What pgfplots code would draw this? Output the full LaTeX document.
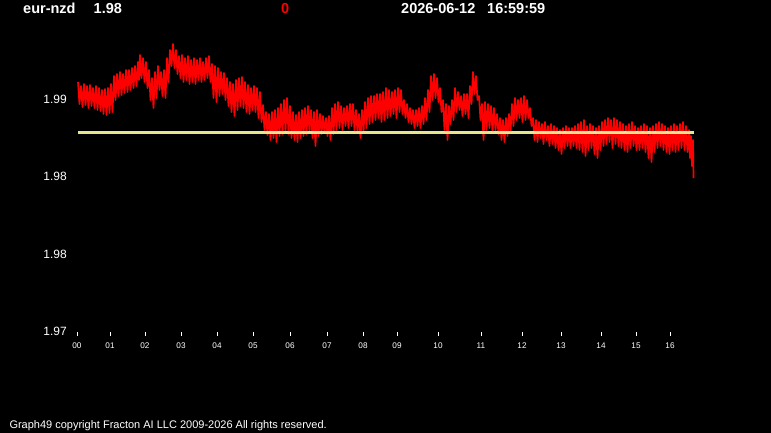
\documentclass[border=0pt]{standalone}
\usepackage{fontspec}
\setmainfont{Liberation Sans}
\usepackage{pgfplots}
\pgfplotsset{compat=1.18}
\definecolor{refline}{RGB}{230,230,140}
\definecolor{pxred}{RGB}{255,0,0}
\begin{document}
\begin{tikzpicture}[x=1pt,y=1pt]
\fill[black] (0,0) rectangle (771,433);
\begin{axis}[
  at={(70pt,97pt)}, anchor=south west,
  scale only axis, width=701pt, height=336pt,
  xmin=70, xmax=771, ymin=1.97221, ymax=1.99389,
  clip=false,
  axis line style={draw=none},
  tick align=inside,
  major tick length=3.5pt,
  xtick pos=bottom, ytick pos=left,
  xtick={77,110,145,181,217,253,290,327,363,397,438,481,522,561,601,636,670},
  xticklabels={00,01,02,03,04,05,06,07,08,09,10,11,12,13,14,15,16},
  xtick style={white, line width=0.8pt},
  xticklabel style={white, anchor=north, inner sep=0pt, yshift=-6.5pt, font=\fontsize{8.2}{9}\selectfont},
  ytick={1.9725,1.9775,1.9825,1.9875},
  yticklabels={1.97,1.98,1.98,1.99},
  ytick style={draw=none},
  yticklabel style={white, anchor=east, inner sep=0pt, xshift=-3pt, font=\fontsize{12}{14}\selectfont},
]
\addplot[pxred, line width=1.7pt, line join=round] coordinates {
(78,1.98860) (79.5,1.98718) (81,1.98834) (82.5,1.98698) (84,1.98847) (85.5,1.98711)
(87,1.98834) (88.5,1.98692) (90,1.98840) (91.5,1.98705) (93,1.98821) (94.5,1.98692)
(96,1.98834) (97.5,1.98679) (99,1.98821) (100.5,1.98673) (102,1.98808) (103.5,1.98653)
(105,1.98815) (106.5,1.98647) (108,1.98821) (109.5,1.98660) (111,1.98847) (112.5,1.98666)
(114,1.98898) (115.5,1.98744) (117,1.98911) (118.5,1.98769) (120,1.98924) (121.5,1.98776)
(123,1.98911) (124.5,1.98789) (126,1.98937) (127.5,1.98795) (129,1.98937) (130.5,1.98808)
(132,1.98950) (133.5,1.98821) (135,1.98963) (136.5,1.98834) (138,1.98989) (139,1.98873)
(140,1.99034) (141.5,1.98885) (143,1.99014) (144.5,1.98860) (146,1.98989) (147.5,1.98821)
(149,1.98937) (150.5,1.98744) (152,1.98885) (153.5,1.98692) (155,1.98924) (156.5,1.98756)
(158,1.98963) (159.5,1.98808) (161,1.98924) (162.5,1.98769) (164,1.98937) (165.5,1.98756)
(167,1.99014) (168.5,1.98860) (170,1.99066) (171.5,1.98963) (173,1.99105) (174.5,1.98950)
(176,1.99066) (177.5,1.98911) (179,1.99027) (180.5,1.98885) (182,1.99034) (183.5,1.98860)
(185,1.99014) (186.5,1.98873) (188,1.99027) (189.5,1.98847) (191,1.99002) (192.5,1.98860)
(194,1.99014) (195.5,1.98847) (197,1.99002) (198.5,1.98873) (200,1.99014) (201.5,1.98860)
(203,1.98989) (204.5,1.98873) (206,1.99014) (207.5,1.98885) (209,1.99027) (210.5,1.98860)
(212,1.98976) (213.5,1.98756) (215,1.98963) (216.5,1.98731) (218,1.98950) (219.5,1.98769)
(221,1.98924) (222.5,1.98782) (224,1.98918) (225.5,1.98744) (227,1.98885) (228.5,1.98705)
(230,1.98860) (231.5,1.98666) (233,1.98847) (234.5,1.98640) (236,1.98873) (237.5,1.98679)
(239,1.98885) (240.5,1.98705) (242,1.98892) (243.5,1.98692) (245,1.98860) (246.5,1.98666)
(248,1.98840) (249.5,1.98653) (251,1.98821) (252.5,1.98679) (254,1.98834) (255.5,1.98666)
(257,1.98821) (258.5,1.98627) (260,1.98795) (261.5,1.98602) (263,1.98711) (264.5,1.98550)
(266,1.98666) (267.5,1.98518) (269,1.98653) (270.5,1.98486) (272,1.98666) (273.5,1.98498)
(275,1.98679) (276.5,1.98473) (278,1.98692) (279.5,1.98511) (281,1.98718) (282.5,1.98524)
(284,1.98744) (285.5,1.98537) (287,1.98756) (288.5,1.98524) (290,1.98705) (291.5,1.98498)
(293,1.98666) (294.5,1.98486) (296,1.98647) (297.5,1.98473) (299,1.98666) (300.5,1.98498)
(302,1.98679) (303.5,1.98511) (305,1.98692) (306.5,1.98524) (308,1.98705) (309.5,1.98537)
(311,1.98679) (312.5,1.98498) (314,1.98666) (315.5,1.98447) (317,1.98679) (318.5,1.98511)
(320,1.98653) (321.5,1.98524) (323,1.98640) (324.5,1.98537) (326,1.98627) (327.5,1.98511)
(329,1.98640) (330.5,1.98486) (332,1.98692) (333.5,1.98524) (335,1.98718) (336.5,1.98550)
(338,1.98731) (339.5,1.98563) (341,1.98705) (342.5,1.98550) (344,1.98692) (345.5,1.98576)
(347,1.98705) (348.5,1.98563) (350,1.98718) (351.5,1.98576) (353,1.98718) (354.5,1.98550)
(356,1.98679) (357.5,1.98537) (359,1.98653) (360.5,1.98498) (362,1.98679) (363.5,1.98537)
(365,1.98731) (366.5,1.98563) (368,1.98756) (369.5,1.98589) (371,1.98769) (372.5,1.98602)
(374,1.98769) (375.5,1.98615) (377,1.98782) (378.5,1.98627) (380,1.98782) (381.5,1.98602)
(383,1.98795) (384.5,1.98615) (386,1.98821) (387.5,1.98627) (389,1.98808) (390.5,1.98640)
(392,1.98795) (393.5,1.98653) (395,1.98808) (396.5,1.98627) (398,1.98821) (399.5,1.98666)
(401,1.98808) (402.5,1.98653) (404,1.98744) (405.5,1.98627) (407,1.98718) (408.5,1.98602)
(410,1.98692) (411.5,1.98589) (413,1.98679) (414.5,1.98563) (416,1.98679) (417.5,1.98576)
(419,1.98692) (420.5,1.98563) (422,1.98705) (423.5,1.98589) (425,1.98756) (426.5,1.98615)
(428,1.98808) (429.5,1.98666) (431,1.98898) (432.5,1.98744) (434,1.98911) (435.5,1.98756)
(437,1.98885) (438.5,1.98731) (440,1.98821) (441.5,1.98666) (443,1.98744) (444.5,1.98550)
(446,1.98718) (447.5,1.98486) (449,1.98705) (450.5,1.98589) (452,1.98744) (453.5,1.98615)
(455,1.98821) (456.5,1.98666) (458,1.98795) (459.5,1.98679) (461,1.98769) (462.5,1.98640)
(464,1.98782) (465.5,1.98653) (467,1.98782) (468.5,1.98627) (470,1.98834) (471.5,1.98718)
(473,1.98924) (474.5,1.98782) (476,1.98898) (477.5,1.98744) (479,1.98769) (480.5,1.98615)
(482,1.98718) (483.5,1.98486) (485,1.98731) (486.5,1.98550) (488,1.98718) (489.5,1.98563)
(491,1.98705) (492.5,1.98537) (494,1.98692) (495.5,1.98550) (497,1.98653) (498.5,1.98524)
(500,1.98627) (501.5,1.98486) (503,1.98615) (504.5,1.98473) (506,1.98627) (507.5,1.98511)
(509,1.98653) (510.5,1.98537) (512,1.98718) (513.5,1.98576) (515,1.98756) (516.5,1.98615)
(518,1.98744) (519.5,1.98627) (521,1.98756) (522.5,1.98602) (524,1.98769) (525.5,1.98615)
(527,1.98744) (528.5,1.98627) (530,1.98692) (531.5,1.98576) (533,1.98627) (534.5,1.98486)
(536,1.98615) (537.5,1.98473) (539,1.98602) (540.5,1.98498) (542,1.98589) (543.5,1.98460)
(545,1.98602) (546.5,1.98486) (548,1.98576) (549.5,1.98447) (551,1.98589) (552.5,1.98460)
(554,1.98576) (555.5,1.98434) (557,1.98563) (558.5,1.98421) (560,1.98550) (561.5,1.98395)
(563,1.98563) (564.5,1.98434) (566,1.98576) (567.5,1.98447) (569,1.98563) (570.5,1.98434)
(572,1.98563) (573.5,1.98447) (575,1.98576) (576.5,1.98434) (578,1.98589) (579.5,1.98421)
(581,1.98602) (582.5,1.98408) (584,1.98615) (585.5,1.98382) (587,1.98576) (588.5,1.98421)
(590,1.98589) (591.5,1.98434) (593,1.98576) (594.5,1.98395) (596,1.98563) (597.5,1.98369)
(599,1.98576) (600.5,1.98421) (602,1.98602) (603.5,1.98447) (605,1.98615) (606.5,1.98460)
(608,1.98627) (609.5,1.98473) (611,1.98615) (612.5,1.98434) (614,1.98627) (615.5,1.98460)
(617,1.98615) (618.5,1.98447) (620,1.98602) (621.5,1.98434) (623,1.98589) (624.5,1.98421)
(626,1.98576) (627.5,1.98408) (629,1.98589) (630.5,1.98434) (632,1.98602) (633.5,1.98447)
(635,1.98576) (636.5,1.98421) (638,1.98563) (639.5,1.98421) (641,1.98576) (642.5,1.98434)
(644,1.98589) (645.5,1.98408) (647,1.98576) (648.5,1.98369) (650,1.98563) (651.5,1.98344)
(653,1.98576) (654.5,1.98408) (656,1.98589) (657.5,1.98434) (659,1.98602) (660.5,1.98447)
(662,1.98589) (663.5,1.98421) (665,1.98576) (666.5,1.98408) (668,1.98563) (669.5,1.98395)
(671,1.98576) (672.5,1.98421) (674,1.98589) (675.5,1.98408) (677,1.98576) (678.5,1.98421)
(680,1.98589) (681.5,1.98434) (683,1.98602) (684.5,1.98421) (686,1.98576) (687.5,1.98408)
(689,1.98550) (690,1.98369) (691,1.98511) (692,1.98318) (693,1.98486) (693.5,1.98240)
};
\addplot[refline, line width=3pt] coordinates {(78,1.98535) (694,1.98535)};
\end{axis}
\begin{scope}[every node/.style={inner sep=0pt, anchor=base west, text=white, font=\fontsize{14.5}{16}\selectfont\bfseries}]
\node at (23,419) {eur-nzd};
\node at (93.5,419) {1.98};
\node[text=pxred] at (281,419) {0};
\node at (401,419) {2026-06-12};
\node at (487,419) {16:59:59};
\end{scope}
\node[inner sep=0pt, anchor=base west, text=white, font=\fontsize{11}{12}\selectfont] at (9.3,4.3) {Graph49 copyright Fracton AI LLC 2009-2026 All rights reserved.};
\pgfresetboundingbox
\useasboundingbox (0,0) rectangle (771,433);
\end{tikzpicture}
\end{document}
